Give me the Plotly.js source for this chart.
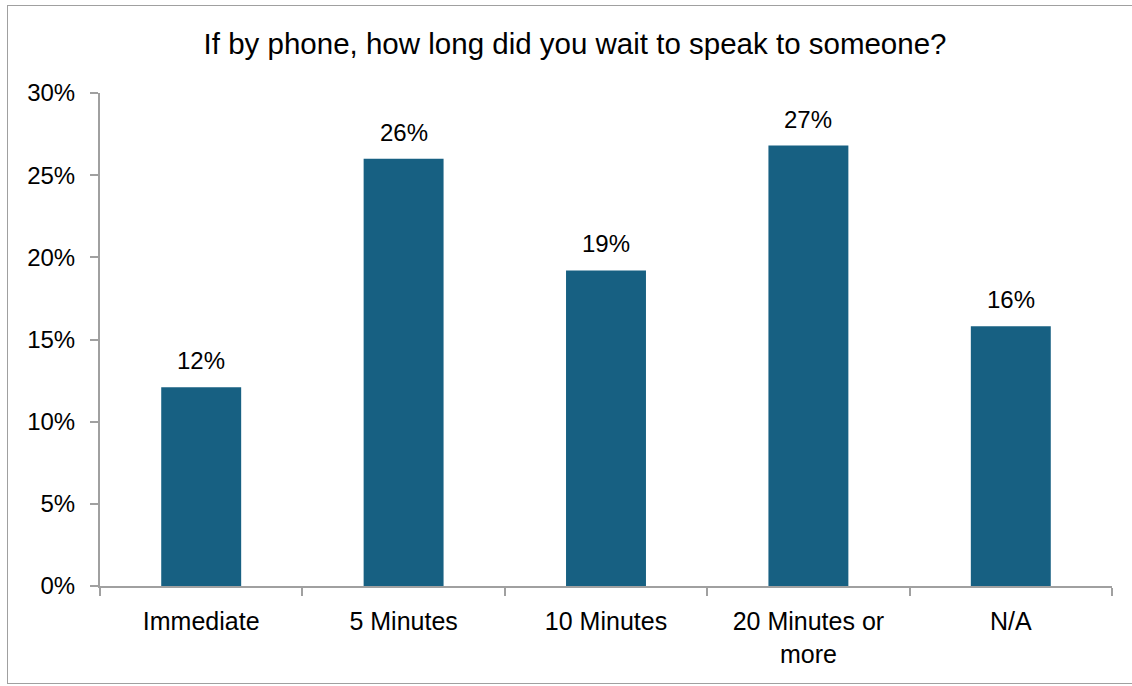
<!DOCTYPE html>
<html>
<head>
<meta charset="utf-8">
<script src="https://cdn.plot.ly/plotly-3.0.1.min.js"></script>
<style>
html,body{margin:0;padding:0;background:#fff;}
#chart{width:1132px;height:686px;}
#frame{position:absolute;left:7px;top:5px;width:1140px;height:679px;border:1.5px solid #a0a0a0;pointer-events:none;box-sizing:border-box;}
</style>
</head>
<body>
<div id="chart"></div>
<div id="frame"></div>
<script>
const titleText = "If by phone, how long did you wait to speak to someone?";
const categories = ["Immediate", "5 Minutes", "10 Minutes", "20 Minutes or<br>more", "N/A"];
const values = [0.121, 0.260, 0.192, 0.268, 0.158];
const labels = values.map(v => Math.round(v * 100) + "%");
const yTickVals = [0, 0.05, 0.10, 0.15, 0.20, 0.25, 0.30];
const yTickText = ["0%", "5%", "10%", "15%", "20%", "25%", "30%"];

const fontFam = "Liberation Sans, Arial, sans-serif";
const axisColor = "#a0a0a0";

const trace = {
  type: "bar",
  x: categories,
  y: values,
  marker: {color: "#176082"},
  hoverinfo: "none"
};

const annotations = categories.map((c, i) => ({
  x: c,
  y: values[i],
  xref: "x",
  yref: "y",
  text: labels[i],
  showarrow: false,
  yanchor: "bottom",
  yshift: 11,
  font: {family: fontFam, size: 24, color: "#000"}
}));

const layout = {
  width: 1132,
  height: 686,
  margin: {l: 100, r: 20, t: 93, b: 100},
  paper_bgcolor: "#fff",
  plot_bgcolor: "#fff",
  showlegend: false,
  bargap: 0.605,
  annotations: annotations,
  title: {
    text: titleText,
    font: {family: fontFam, size: 29.5, color: "#000"},
    x: 0.508, xref: "container", xanchor: "center",
    y: 0.937, yref: "container", yanchor: "middle"
  },
  xaxis: {
    type: "category",
    showline: true,
    linecolor: axisColor,
    linewidth: 2,
    ticks: "outside",
    tickson: "boundaries",
    ticklen: 8,
    tickcolor: axisColor,
    tickwidth: 2,
    showgrid: false,
    zeroline: false,
    tickfont: {family: fontFam, size: 25, color: "#000"},
    ticklabelstandoff: 12
  },
  yaxis: {
    range: [0, 0.30],
    tickvals: yTickVals,
    ticktext: yTickText,
    showline: true,
    linecolor: axisColor,
    linewidth: 2,
    ticks: "outside",
    ticklen: 8,
    tickcolor: axisColor,
    tickwidth: 2,
    showgrid: false,
    zeroline: false,
    tickfont: {family: fontFam, size: 24, color: "#000"},
    ticklabelstandoff: 10
  }
};

Plotly.newPlot("chart", [trace], layout, {displayModeBar: false, staticPlot: true});
</script>
</body>
</html>
